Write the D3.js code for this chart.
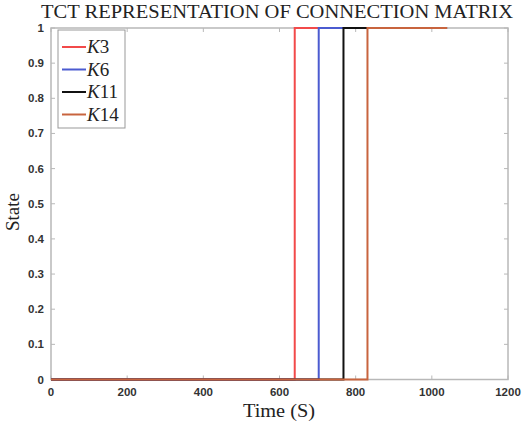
<!DOCTYPE html>
<html>
<head>
<meta charset="utf-8">
<script src="https://cdn.jsdelivr.net/npm/d3@7"></script>
<style>
  body { margin: 0; background: #fff; }
  svg { display: block; }
  .tick { font-family: "Liberation Sans", Arial, sans-serif; font-weight: bold; font-size: 11.5px; fill: #333; }
  .serif { font-family: "Liberation Serif", "DejaVu Serif", "Times New Roman", serif; fill: #222; }
</style>
</head>
<body>
<svg id="chart" width="522" height="423"></svg>
<script>
// switching times (seconds)
const names = ["K3", "K6", "K11", "K14"];
const switchTimes = [640, 703, 768, 831];
const endTime = 1040;
const colors = ["#f24a4a", "#4b5bd0", "#111111", "#c8643e"];
const xTicks = [0, 200, 400, 600, 800, 1000, 1200];
const yTicks = [0, 0.1, 0.2, 0.3, 0.4, 0.5, 0.6, 0.7, 0.8, 0.9, 1];

const svg = d3.select("#chart");
const m = { left: 51, right: 508, top: 28, bottom: 379.5 };

const x = d3.scaleLinear().domain([0, 1200]).range([m.left, m.right]);
const y = d3.scaleLinear().domain([0, 1]).range([m.bottom, m.top]);

const axisCol = "#b8b8b8";

// frame
svg.append("rect")
  .attr("x", m.left).attr("y", m.top)
  .attr("width", m.right - m.left).attr("height", m.bottom - m.top)
  .attr("fill", "#fff").attr("stroke", axisCol).attr("stroke-width", 1.5);

// ticks (inside, all four sides)
const tl = 4;
xTicks.forEach(t => {
  svg.append("line").attr("x1", x(t)).attr("x2", x(t)).attr("y1", m.bottom).attr("y2", m.bottom - tl)
    .attr("stroke", axisCol);
  svg.append("line").attr("x1", x(t)).attr("x2", x(t)).attr("y1", m.top).attr("y2", m.top + tl)
    .attr("stroke", axisCol);
  svg.append("text").attr("class", "tick").attr("x", x(t)).attr("y", m.bottom + 16)
    .attr("text-anchor", "middle")
    .text(t);
});
yTicks.forEach(t => {
  svg.append("line").attr("x1", m.left).attr("x2", m.left + tl).attr("y1", y(t)).attr("y2", y(t))
    .attr("stroke", axisCol);
  svg.append("line").attr("x1", m.right).attr("x2", m.right - tl).attr("y1", y(t)).attr("y2", y(t))
    .attr("stroke", axisCol);
  svg.append("text").attr("class", "tick").attr("x", m.left - 7).attr("y", y(t) + 4)
    .attr("text-anchor", "end")
    .text(t);
});

// step lines
const line = d3.line().x(d => x(d[0])).y(d => y(d[1]));
names.forEach((n, i) => {
  const s = switchTimes[i];
  const pts = [[0, 0], [s, 0], [s, 1], [endTime, 1]];
  svg.append("path").datum(pts)
    .attr("d", line).attr("fill", "none")
    .attr("stroke", colors[i]).attr("stroke-width", 2);
});

// legend
const lg = svg.append("g");
lg.append("rect").attr("x", 58).attr("y", 30).attr("width", 67).attr("height", 98)
  .attr("fill", "#fff").attr("stroke", "#999").attr("stroke-width", 1);
names.forEach((n, i) => {
  const ly = 47 + i * 22.5;
  lg.append("line").attr("x1", 62).attr("x2", 86).attr("y1", ly).attr("y2", ly)
    .attr("stroke", colors[i]).attr("stroke-width", 2);
  const t = lg.append("text").attr("class", "serif").attr("x", 87).attr("y", ly + 6)
    .attr("font-size", 19);
  t.append("tspan").attr("font-style", "italic").text("K");
  t.append("tspan").text(n.slice(1));
});

// title and axis labels
svg.append("text").attr("class", "serif")
  .attr("x", 277).attr("y", 18)
  .attr("text-anchor", "middle").attr("font-size", 19)
  .attr("textLength", 472).attr("lengthAdjust", "spacingAndGlyphs")
  .text("TCT REPRESENTATION OF CONNECTION MATRIX");

svg.append("text").attr("class", "serif")
  .attr("x", 279).attr("y", 417)
  .attr("text-anchor", "middle").attr("font-size", 18)
  .attr("textLength", 72).attr("lengthAdjust", "spacingAndGlyphs")
  .text("Time (S)");

svg.append("text").attr("class", "serif")
  .attr("transform", "translate(19,212) rotate(-90)")
  .attr("text-anchor", "middle").attr("font-size", 19)
  .text("State");
</script>
</body>
</html>
